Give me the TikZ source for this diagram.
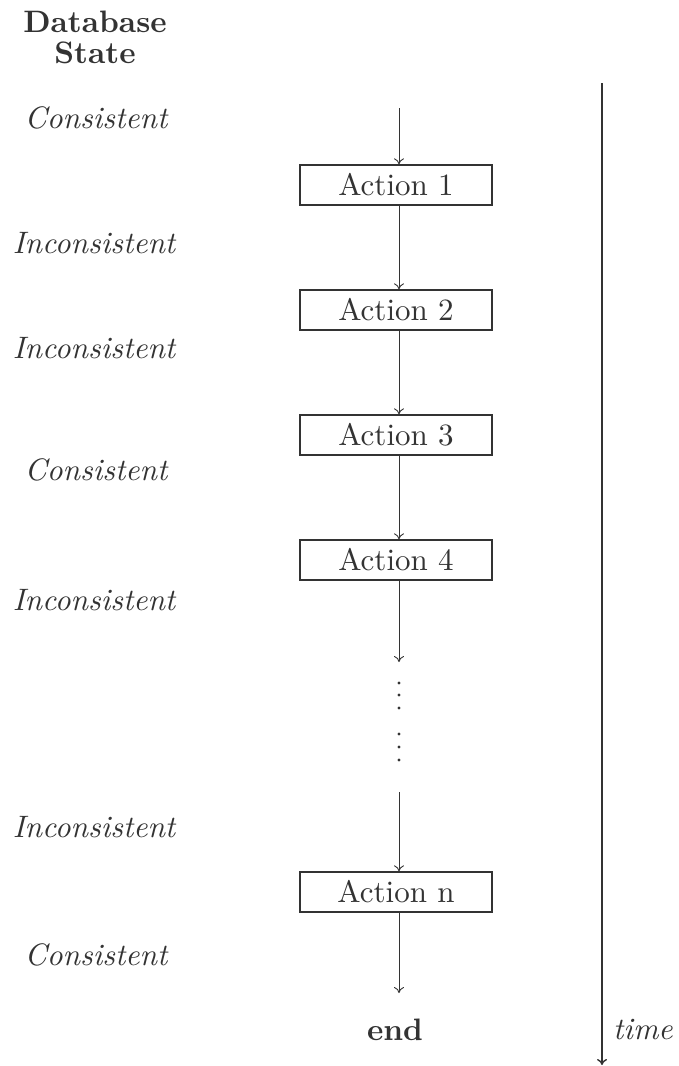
\documentclass[tikz,border=0pt]{standalone}
\usepackage{fontspec}
% text-size design of Latin Modern, scaled up
\setmainfont{lmroman10-regular.otf}[
  BoldFont=lmroman10-bold.otf,
  ItalicFont=lmroman10-italic.otf,
  BoldItalicFont=lmroman10-bolditalic.otf]
\usetikzlibrary{arrows.meta}
\definecolor{ink}{HTML}{333333}
\begin{document}
\begin{tikzpicture}[x=1pt,y=-1pt,
  txt/.style={text=ink,font=\fontsize{31}{36}\selectfont,inner sep=0pt},
  state/.style={txt,font=\fontsize{31}{36}\selectfont\itshape},
  actionbox/.style={txt,draw=ink,line width=1.3pt,minimum width=192pt,minimum height=40pt},
  flow/.style={draw=ink,line width=0.9pt,-{To[length=6pt,width=10pt]}},
  timeline/.style={draw=ink,line width=1.4pt,-{To[length=6pt,width=10pt]}},
  dot/.style={fill=ink,draw=none}]
\useasboundingbox (0,0) rectangle (678,1066);

% column header
\node[txt,font=\fontsize{31}{31}\bfseries\selectfont,align=center] (db) at (95,37) {Database\\State};

% database state labels
\node[state] (s0) at (96,118) {Consistent};
\node[state] (s1) at (94,243) {Inconsistent};
\node[state] (s2) at (94,348) {Inconsistent};
\node[state] (s3) at (96,470) {Consistent};
\node[state] (s4) at (94,600) {Inconsistent};
\node[state] (s5) at (94,827) {Inconsistent};
\node[state] (s6) at (96,955) {Consistent};

% actions
\node[actionbox] (a1) at (396,185) {Action 1};
\node[actionbox] (a2) at (396,310) {Action 2};
\node[actionbox] (a3) at (396,435) {Action 3};
\node[actionbox] (a4) at (396,560) {Action 4};
\node[actionbox] (an) at (396,892) {Action n};
\node[txt,font=\fontsize{31}{36}\bfseries\selectfont] (fin) at (395,1030) {end};

% flow between actions
\coordinate (c0) at (399,108);
\coordinate (c4) at (399,662);
\coordinate (c5) at (399,792);
\coordinate (c6) at (399,993);
\draw[flow] (c0) -- (c0 |- a1.north);
\draw[flow] (a1.south -| c0) -- (c0 |- a2.north);
\draw[flow] (a2.south -| c0) -- (c0 |- a3.north);
\draw[flow] (a3.south -| c0) -- (c0 |- a4.north);
\draw[flow] (a4.south -| c0) -- (c4);
\draw[flow] (c5) -- (c0 |- an.north);
\draw[flow] (an.south -| c0) -- (c6);

% ellipsis
\foreach \y in {683,695,708,734,747,760}
  \fill[dot] (399,\y) circle (1.6pt);

% time axis
\coordinate (t0) at (602,83);
\coordinate (t1) at (602,1065);
\draw[timeline] (t0) -- (t1);
\node[state,anchor=west] (tm) at (613,1030) {time};
\end{tikzpicture}
\end{document}
